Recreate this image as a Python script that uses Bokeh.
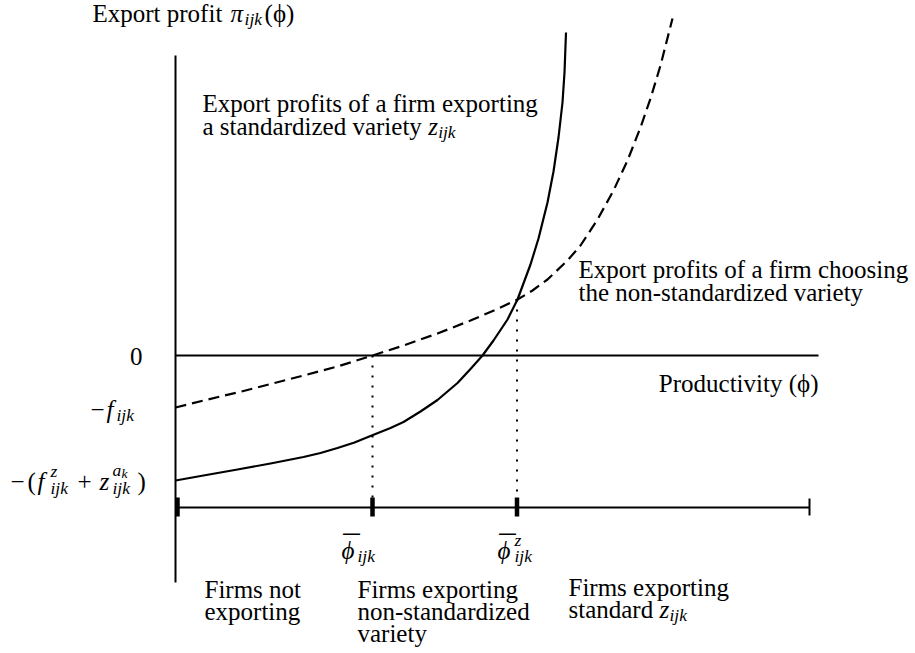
from bokeh.plotting import figure
from bokeh.models import Range1d
from bokeh.core.properties import value
from bokeh.embed import file_html
from bokeh.resources import INLINE

# ---------------- data (diagram units: productivity phi, export profit pi) ----------------
std_phi = [-1, 27, 61, 94, 127, 144, 161, 178, 194, 214, 227, 244, 261, 281, 294, 306,
           317, 331, 341, 354, 362, 371, 377, 382, 386, 388, 389.5]
std_profit = [-125, -120, -114, -108, -101.5, -97.5, -92.5, -87, -80.5, -72.5, -66.5, -56,
              -44.5, -27.5, -13.5, 0, 15, 36, 56, 91, 117, 153, 184, 218, 253, 283, 323]

nonstd_phi = [-1, 27, 61, 94, 127, 161, 196, 227, 261, 294, 321, 341, 356, 371, 391, 404,
              421, 437, 451, 464, 474, 484, 496]
nonstd_profit = [-52, -45, -37, -28.5, -20, -11, 0, 10, 22, 35, 46.5, 56, 65, 76, 95, 110,
                 136, 165, 195, 228, 257, 290, 337]

phi_bar = 196          # cutoff: non-standardized exporters
phi_bar_z = 340.5      # cutoff: standardized exporters
phi_axis_end = 633     # end of the sorting line
profit_axis_end = 642  # end of the zero line
axis_top, axis_bottom = 300, -227
band_level = -152      # sorting line below the chart
cut_profit_z = 56      # profit at intersection

FONT = "Liberation Serif"
FS = 25
SS = 17.5
SSS = 13.5
TEXT_DY = -8

p = figure(width=915, height=653, x_range=Range1d(-176, 739), y_range=Range1d(-298, 355),
           output_backend="svg", toolbar_location=None, min_border=0,
           x_axis_location=None, y_axis_location=None)
p.grid.visible = False
p.outline_line_color = None
p.background_fill_color = "white"
p.border_fill_color = "white"

K = "black"
# axes
p.line([-1, -1], [axis_top, axis_bottom], line_color=K, line_width=2)
p.line([-1, profit_axis_end], [0, 0], line_color=K, line_width=2)
p.line([0, phi_axis_end], [band_level, band_level], line_color=K, line_width=2)
# ticks on the sorting line
p.segment(x0=[1, phi_bar, phi_bar_z], y0=[band_level + 10] * 3,
          x1=[1, phi_bar, phi_bar_z], y1=[band_level - 9] * 3, line_color=K, line_width=4.5)
p.segment(x0=[phi_axis_end], y0=[band_level + 9], x1=[phi_axis_end], y1=[band_level - 8],
          line_color=K, line_width=2)
# dotted guides
p.segment(x0=[phi_bar, phi_bar_z], y0=[0, cut_profit_z], x1=[phi_bar, phi_bar_z],
          y1=[band_level, band_level], line_color=K, line_width=2, line_dash="2 8")
# curves
p.line(nonstd_phi, nonstd_profit, line_color=K, line_width=2.2, line_dash="11 6",
       line_join="round")
p.line(std_phi, std_profit, line_color=K, line_width=2.2, line_join="round")

# ---------------- text helpers ----------------
W_R = {' ': 250, 'a': 444, 'b': 500, 'c': 444, 'd': 500, 'e': 444, 'f': 333, 'g': 500,
       'h': 500, 'i': 278, 'j': 278, 'k': 500, 'l': 278, 'm': 778, 'n': 500, 'o': 500,
       'p': 500, 'r': 333, 's': 389, 't': 278, 'u': 500, 'v': 500, 'x': 500, 'y': 500,
       'z': 444, 'E': 611, 'F': 556, 'P': 556, '(': 333, ')': 333, '-': 333}


def tw(s, size):
    return sum(W_R.get(c, 500) for c in s) / 1000.0 * size


def X(px):
    return px - 176


def Y(py):
    return 355 - py


def T(px, py, s, size=FS, italic=False, align="left"):
    p.text(x=[X(px)], y=[Y(py + TEXT_DY)], text=[s], text_font=value(FONT),
           text_font_size=f"{size}px", text_font_style="italic" if italic else "normal",
           text_align=align, text_baseline="alphabetic", text_color=K)


# y-axis title
s0 = "Export profit "
T(92, 21, s0)
xp = 92 + tw(s0, FS) + 2
T(xp, 21, "π", italic=True)
T(xp + 14, 26, "ijk", SS, italic=True)
T(xp + 34, 21, "(ϕ)")

# annotation: standardized
T(202, 111, "Export profits of a firm exporting")
s2 = "a standardized variety "
T(202, 134, s2)
xz = 202 + tw(s2, FS)
T(xz, 134, "z", italic=True)
T(xz + 10, 139, "ijk", SS, italic=True)

# annotation: non-standardized
T(578, 277, "Export profits of a firm choosing")
T(578, 300, "the non-standardized variety")

# x-axis title
T(818, 391, "Productivity (ϕ)", align="right")

# y tick labels
T(142, 364, "0", align="right")
T(90, 417, "−")
T(106, 417, "f", italic=True)
T(116, 422, "ijk", SS, italic=True)

T(10, 489, "−")
T(27, 489, "(")
T(37, 489, "f", italic=True)
T(50, 478, "z", SS, italic=True)
T(50, 495, "ijk", SS, italic=True)
T(77, 489, "+")
T(99, 489, "z", italic=True)
T(112, 477, "a", SS, italic=True)
T(121, 481, "k", SSS, italic=True)
T(112, 495, "ijk", SS, italic=True)
T(137, 489, ")")

# cutoff labels
T(341, 558, "ϕ", italic=True)
T(351, 555, "¯", 33, align="center")
T(357, 563, "ijk", SS, italic=True)
T(497, 558, "ϕ", italic=True)
T(507, 555, "¯", 33, align="center")
T(514, 547, "z", SS, italic=True)
T(514, 563, "ijk", SS, italic=True)

# bottom group labels
T(204, 597, "Firms not")
T(204, 619, "exporting")
T(357, 597, "Firms exporting")
T(357, 619, "non-standardized")
T(357, 641, "variety")
T(568, 595, "Firms exporting")
s3 = "standard "
T(568, 617, s3)
xz3 = 568 + tw(s3, FS)
T(xz3, 617, "z", italic=True)
T(xz3 + 10, 622, "ijk", SS, italic=True)

open("out.html", "w").write(file_html(p, INLINE))
